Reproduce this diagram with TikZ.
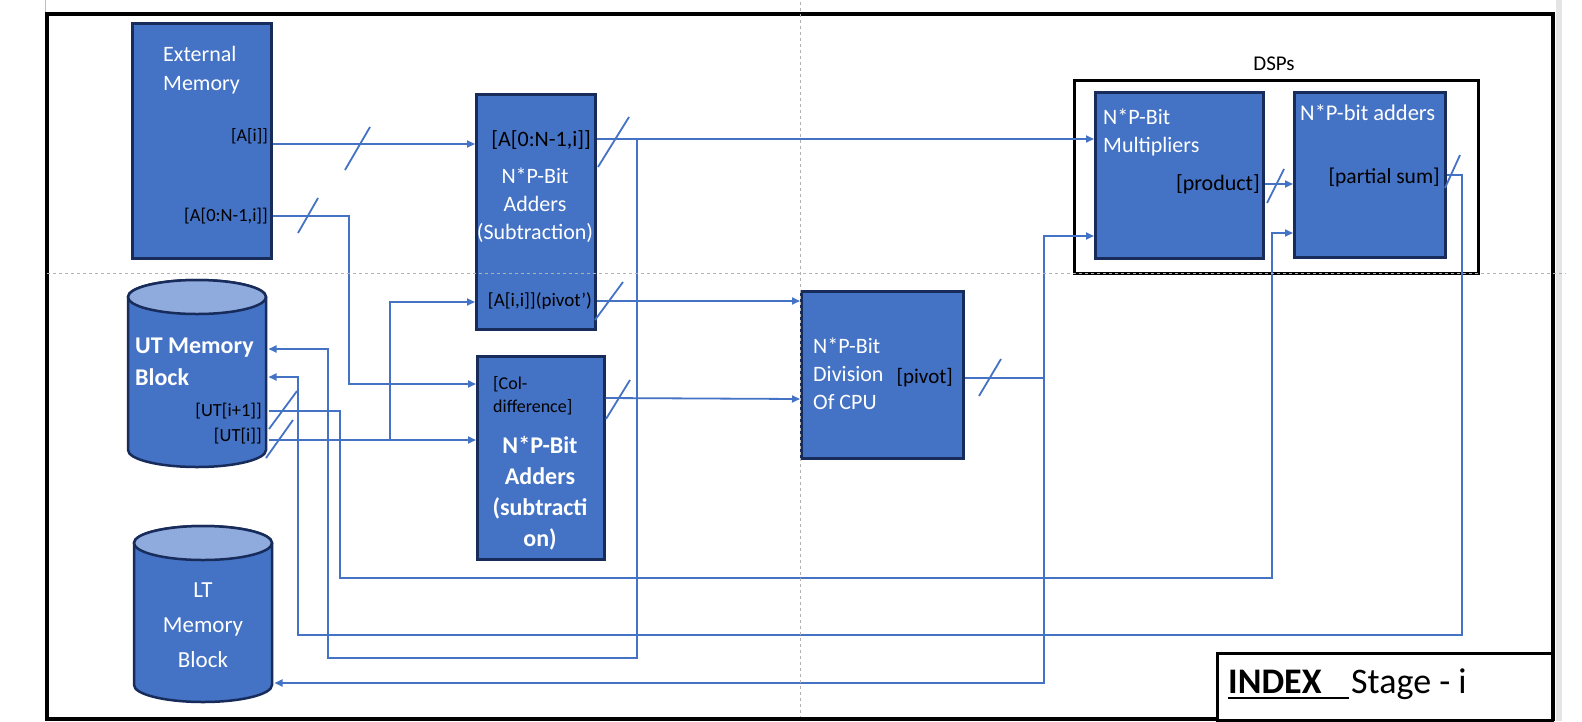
\documentclass[tikz,border=0pt]{standalone}
\usepackage{fontspec}
\setmainfont{Carlito}
\usetikzlibrary{arrows.meta}
\definecolor{boxblue}{HTML}{4472C4}
\definecolor{navy}{HTML}{172C5A}
\definecolor{wireblue}{HTML}{4472C4}
\definecolor{capblue}{HTML}{8FAADC}
\begin{document}
\begin{tikzpicture}[x=1pt,y=-1pt,
 blk/.style={draw=navy, line width=2.5pt, fill=boxblue, inner sep=0pt, anchor=north west},
 wire/.style={draw=wireblue, line width=1.8pt},
 arr/.style={wire, -{Triangle[length=8pt,width=7pt]}},
 slashmark/.style={draw=wireblue, line width=1.8pt},
 wt/.style={text=white, inner sep=0pt, font=\fontsize{22}{28}\selectfont},
 lbl/.style={text=black, inner sep=0pt, font=\fontsize{18}{23}\selectfont},
 guide/.style={draw=gray!60, line width=0.8pt, dash pattern=on 3pt off 3pt},
 cyl/.style={draw=navy, line width=2.5pt, fill=boxblue}]
\useasboundingbox (0,0) rectangle (1582,721);
\fill[white] (0,0) rectangle (1582,721);
% page edges
\draw[gray!50, line width=1pt] (45,0) -- (45,12);
\fill[gray!20] (1556,0) rectangle (1562,721);
% outer frame
\draw[line width=4pt] (47,14) rectangle (1553,719);

% boxes
\node[blk, minimum width=139pt, minimum height=235pt] (ext) at (131,22) {};
\node[blk, minimum width=119pt, minimum height=235pt] (add1) at (475,93) {};
\node[blk, minimum width=127pt, minimum height=203pt] (add2) at (476,355) {};
\node[blk, minimum width=162pt, minimum height=167pt] (div) at (800,290) {};
\node[draw=black, line width=3pt, inner sep=0pt, anchor=north west, minimum width=404pt, minimum height=193pt] (dsp) at (1073,79) {};
\node[blk, minimum width=168pt, minimum height=166pt] (mult) at (1094,91) {};
\node[blk, minimum width=151pt, minimum height=165pt] (psum) at (1293,91) {};
\node[draw=black, line width=3pt, fill=white, inner sep=0pt, anchor=north west, minimum width=335pt, minimum height=67pt] (idxbox) at (1216,652) {};

% UT cylinder
\draw[cyl] (128,297) -- (128,450) arc[start angle=180, end angle=360, x radius=69pt, y radius=17pt] -- (266,297) arc[start angle=0, end angle=180, x radius=69pt, y radius=17pt] -- cycle;
\draw[cyl, fill=capblue] (197,297) ellipse [x radius=69pt, y radius=17pt];
\node[inner sep=0pt, outer sep=1.25pt, anchor=north west, minimum width=138pt, minimum height=187pt] (ut) at (128,280) {};
% LT cylinder
\draw[cyl] (134,543) -- (134,685) arc[start angle=180, end angle=360, x radius=69pt, y radius=17pt] -- (272,543) arc[start angle=0, end angle=180, x radius=69pt, y radius=17pt] -- cycle;
\draw[cyl, fill=capblue] (203,543) ellipse [x radius=69pt, y radius=17pt];
\node[inner sep=0pt, outer sep=1.25pt, anchor=north west, minimum width=138pt, minimum height=176pt] (lt) at (134,526) {};

% texts (multi-line nodes: base anchor = last line baseline)
\node[wt, anchor=base west, align=left, font=\fontsize{22}{29}\selectfont] (tExt) at (163,90) {External\\Memory};
\node[lbl, anchor=base east] (tAi) at (268,141) {[A[i]]};
\node[lbl, anchor=base east, font=\fontsize{18.5}{23}\selectfont] (tAcol) at (268,221) {[A[0:N-1,i]]};

\node[wt, anchor=base, align=center] (tAdd1) at (535,239) {N*P-Bit\\Adders\\(Subtraction)};
\node[lbl, anchor=base east, font=\fontsize{22}{26}\selectfont] (tA1) at (591,146) {[A[0:N-1,i]]};
\node[lbl, anchor=base east, font=\fontsize{19}{23}\selectfont] (tPiv1) at (592,306) {[A[i,i]](pivot’)};

\node[lbl, anchor=base west, align=left, font=\fontsize{18}{23}\selectfont] (tCol) at (493,412) {[Col-\\difference]};
\node[wt, anchor=base, align=center, font=\fontsize{24}{31}\selectfont\bfseries] (tAdd2) at (540,546) {N*P-Bit\\Adders\\(subtracti\\on)};

\node[wt, anchor=base west, align=left] (tDiv) at (813,409) {N*P-Bit\\Division\\Of CPU};
\node[lbl, anchor=base east, font=\fontsize{21}{25}\selectfont] (tPiv) at (953,383) {[pivot]};

\node[wt, anchor=base west, align=left, font=\fontsize{24}{32}\selectfont\bfseries] (tUT) at (135,385) {UT Memory\\Block};
\node[lbl, anchor=base east, font=\fontsize{18.5}{23}\selectfont] (tUT1) at (262,416) {[UT[i+1]]};
\node[lbl, anchor=base east, font=\fontsize{18.5}{23}\selectfont] (tUT0) at (262,441) {[UT[i]]};

\node[wt, anchor=base, align=center, font=\fontsize{23}{35}\selectfont] (tLT) at (203,667) {LT\\Memory\\Block};

\node[lbl, anchor=base, font=\fontsize{21}{25}\selectfont] (tDSP) at (1274,70) {DSPs};
\node[wt, anchor=base west, align=left] (tMult) at (1103,152) {N*P-Bit\\Multipliers};
\node[lbl, anchor=base east, font=\fontsize{22}{26}\selectfont] (tProd) at (1260,190) {[product]};
\node[wt, anchor=base west, font=\fontsize{22.5}{27}\selectfont] (tPsum) at (1300,120) {N*P-bit adders};
\node[lbl, anchor=base east, font=\fontsize{21.5}{26}\selectfont] (tPs) at (1440,183) {[partial sum]};

\node[anchor=base west, inner sep=0pt, font=\fontsize{36}{40}\selectfont\bfseries] (tIdx) at (1228,693) {INDEX};
\node[anchor=base west, inner sep=0pt, font=\fontsize{36}{40}\selectfont] (tStage) at (1351,693) {Stage - i};
\draw[line width=2.5pt] (1228,698) -- (1349,698);

% connectors
% A
\draw[arr] (ext.east |- 0,144) -- (add1.west |- 0,144);
\draw[slashmark] (345,170) -- (370,127);
% B
\draw[arr] (ext.east |- 0,216) -- (349,216) -- (349,384) -- (add2.west |- 0,384);
\draw[slashmark] (298,233) -- (318,198);
% C
\draw[arr] (ut.east |- 0,440) -- (add2.west |- 0,440);
\draw[arr] (390,440) -- (390,302) -- (add1.west |- 0,302);
\draw[slashmark] (266,458) -- (293,420);
% D
\draw[arr] (ut.east |- 0,411) -- (340,411) -- (340,578) -- (1272,578) -- (1272,233) -- (psum.west |- 0,233);
\draw[slashmark] (269,429) -- (297,391);
% E
\draw[arr] (psum.east |- 0,175) -- (1462,175) -- (1462,635) -- (298,635) -- (298,377) -- (ut.east |- 0,377);
\draw[slashmark] (1445,188) -- (1460,155);
% F
\draw[arr] (add1.east |- 0,139) -- (mult.west |- 0,139);
\draw[arr] (637,139) -- (637,658) -- (328,658) -- (328,349) -- (ut.east |- 0,349);
\draw[slashmark] (598,167) -- (629,117);
% G
\draw[arr] (add1.east |- 0,301) -- (div.west |- 0,301);
\draw[slashmark] (595,320) -- (623,282);
% H
\draw[arr] (add2.east |- 0,398) -- (div.west |- 0,399);
\draw[slashmark] (606,419) -- (630,380);
% I
\draw[wire] (div.east |- 0,378) -- (1044,378);
\draw[arr] (1044,378) -- (1044,236) -- (mult.west |- 0,236);
\draw[arr] (1044,378) -- (1044,683) -- (lt.east |- 0,683);
\draw[slashmark] (979,396) -- (1001,359);
% J
\draw[arr] (mult.east |- 0,184) -- (psum.west |- 0,184);
\draw[slashmark] (1267,203) -- (1284,169);

% guides
\draw[guide] (47,273) -- (1566,273);
\draw[guide] (800,2) -- (800,717);
\end{tikzpicture}
\end{document}
